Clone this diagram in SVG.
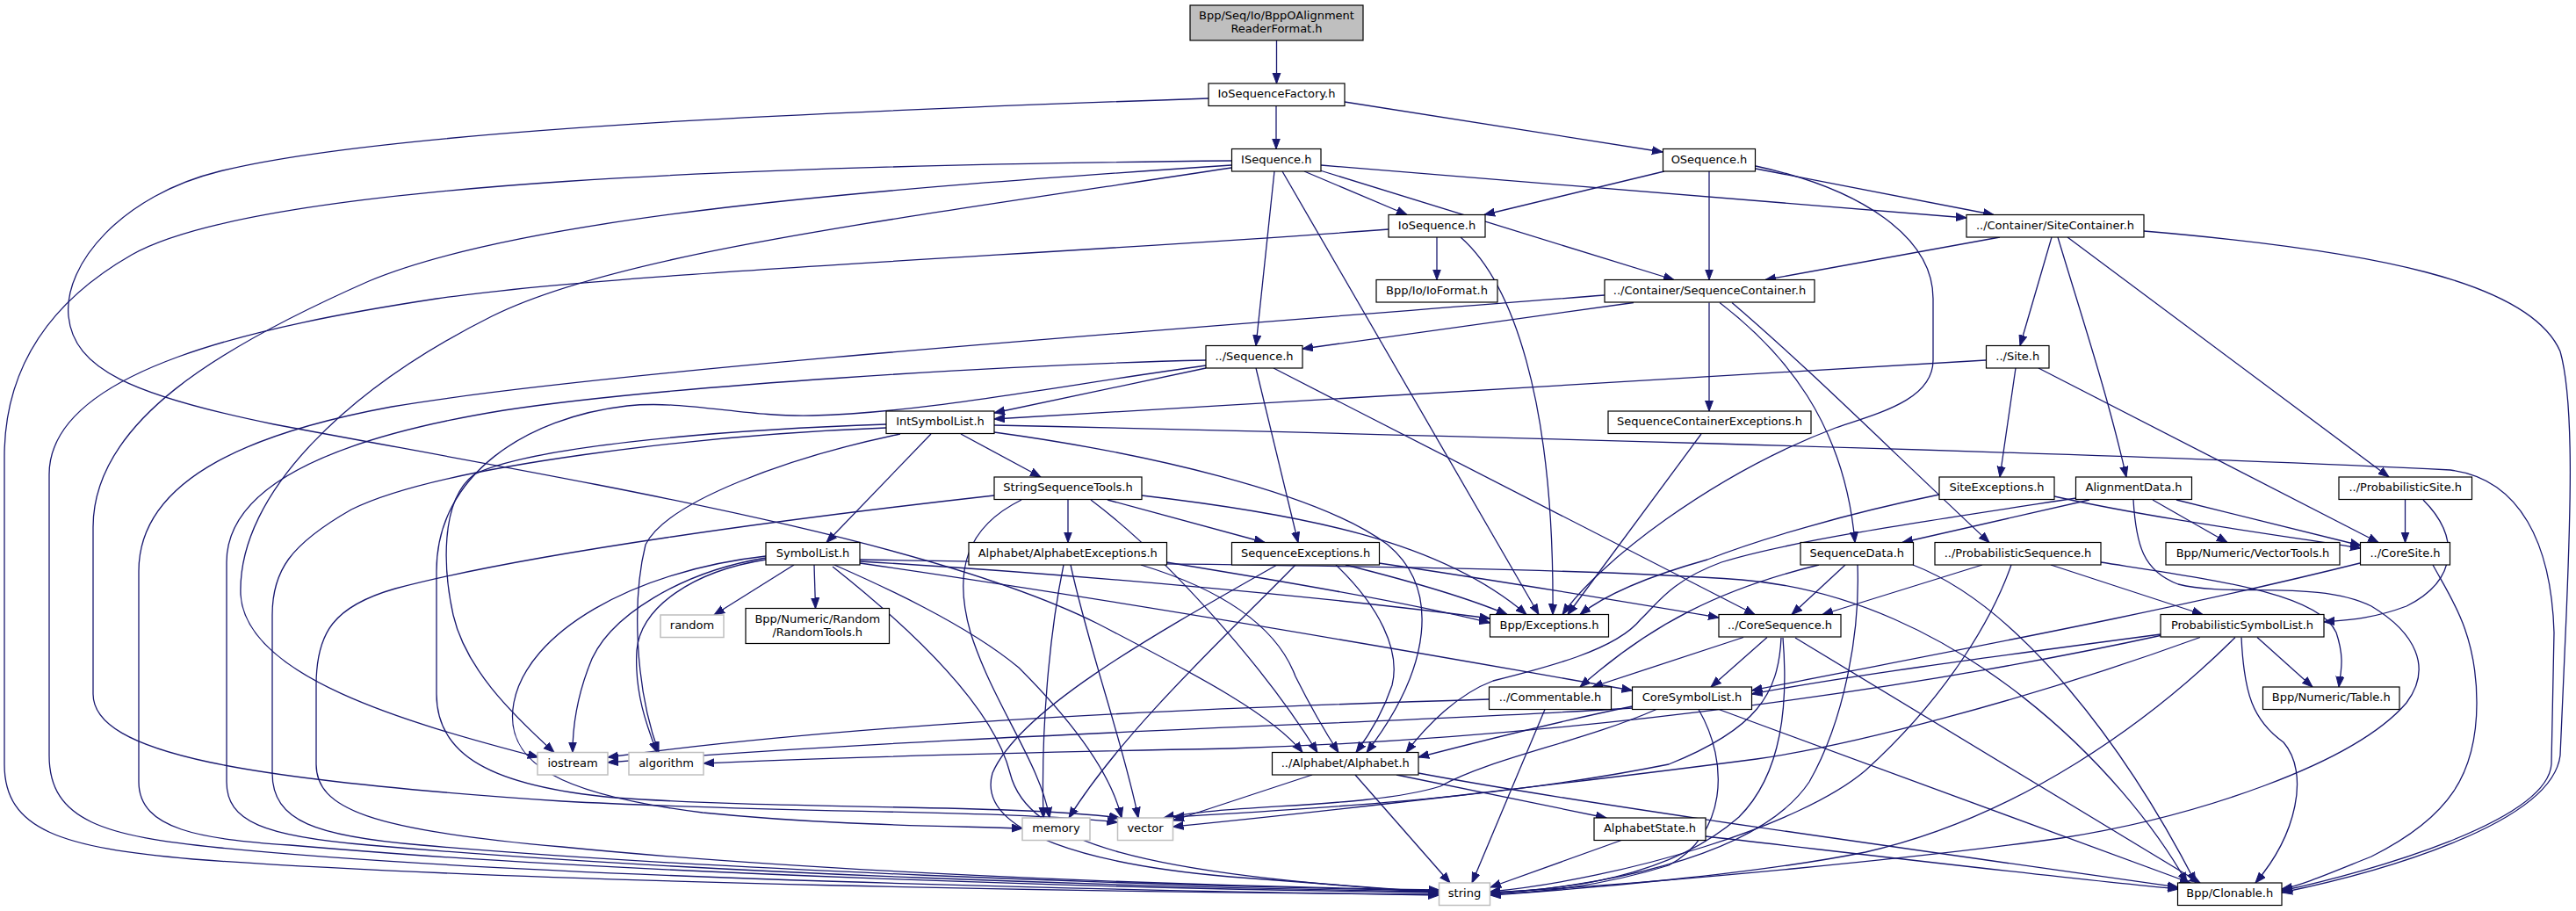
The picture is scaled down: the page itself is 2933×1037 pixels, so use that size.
<svg xmlns="http://www.w3.org/2000/svg" width="2933" height="1037" viewBox="0 0 2933 1037">
<style>
.n rect{fill:#fff;stroke:#000;stroke-width:1.2}
.g rect{fill:#fff;stroke:#bfbfbf;stroke-width:1.5}
.r rect{fill:#bfbfbf;stroke:#000;stroke-width:1.2}
text{font-family:"DejaVu Sans","Liberation Sans",sans-serif;font-size:13px;text-anchor:middle;fill:#000}
#edges path{fill:none;stroke:#191970;stroke-width:1.3;marker-end:url(#arr)}
</style>
<defs>
<marker id="arr" markerWidth="14" markerHeight="11" refX="12" refY="5" orient="auto" markerUnits="userSpaceOnUse">
<path d="M0,0.5 L12,5 L0,9.5 z" fill="#191970" stroke="#191970" stroke-width="1"/>
</marker>
</defs>
<rect width="2933" height="1037" fill="#fff"/>
<g id="edges">
<path d="M1453.5,46 L1453.5,95"/>
<path d="M1453,121 L1453,169.5"/>
<path d="M1531,116 L1893,173"/>
<path d="M1376,112 C1000,125 450,145 250,195 C140,222 72,300 78,360 C84,420 150,450 312,483 C640,545 1050,610 1250,710 C1370,772 1450,815 1483,856.5"/>
<path d="M1485,195 L1602,244.5"/>
<path d="M1503,194 L1906,318.5"/>
<path d="M1504,188 L2239,248"/>
<path d="M1451,195 L1430,393.5"/>
<path d="M1460,195 L1752,699.5"/>
<path d="M1402,183 C900,188 300,205 150,290 C45,350 5,430 5,520 L5,870 C5,945 70,965 220,978 C600,1006 1300,1016 1638.5,1018"/>
<path d="M1402,188 C1000,215 600,245 420,320 C250,395 106,480 106,600 L106,790 C106,858 280,888 640,912 C900,926 1150,922 1272.5,936"/>
<path d="M1402,191 C1000,252 700,290 560,360 C400,440 270,560 274,677 C280,770 460,822 613,862"/>
<path d="M1895,195 L1690,244.5"/>
<path d="M1946,195 L1946,318.5"/>
<path d="M1999,192 L2270,244.5"/>
<path d="M1999,189 C2120,215 2201,270 2201,340 L2201,410 C2201,455 2140,470 2090,487 C1950,540 1820,640 1779,699.5"/>
<path d="M1636,270 L1636,318.5"/>
<path d="M1663,270 C1720,320 1770,450 1768,699.5"/>
<path d="M1581,261 C1200,290 700,310 497,340 C300,370 56,420 56,540 L56,860 C56,935 120,952 250,965 C600,1000 1300,1014 1638.5,1019"/>
<path d="M2277,270 L2010,318.5"/>
<path d="M2336,270 L2300,393.5"/>
<path d="M2343,270 C2370,360 2400,450 2421,543"/>
<path d="M2354,270 L2720,543"/>
<path d="M2441,263 C2700,285 2880,320 2915,400 C2932,460 2926,600 2922,700 L2915,860 C2905,940 2700,995 2598,1016"/>
<path d="M1860,344.5 L1483,397"/>
<path d="M1946,344.5 L1946,468"/>
<path d="M1958,344.5 C2030,400 2100,480 2112,617.5"/>
<path d="M1972,344.5 C2060,420 2140,500 2265,617.5"/>
<path d="M1827,336 C1400,370 700,420 446,463 C300,490 158,540 158,650 L158,890 C158,945 230,955 330,962 C700,995 1300,1012 1638.5,1016"/>
<path d="M1373,419 L1132,470"/>
<path d="M1430,419 L1478,617.5"/>
<path d="M1450,419 L1998,699.5"/>
<path d="M1373,410 C1150,415 750,440 574,467 C420,492 258,540 258,640 L258,890 C258,935 300,952 420,962 C800,995 1300,1010 1638.5,1015"/>
<path d="M1373,416 C1200,440 1050,470 925,473 C850,475 780,455 714,462 C600,475 497,540 497,650 L497,790 C497,860 560,895 700,908 C900,922 1150,915 1275,931"/>
<path d="M2261,410 L1132,477"/>
<path d="M2295,419 L2277,543"/>
<path d="M2321,419 L2708,617.5"/>
<path d="M1060,494 L941,617.5"/>
<path d="M1094,494 L1185,543"/>
<path d="M1132,492 C1300,515 1500,560 1580,620 C1640,670 1630,760 1556,856.5"/>
<path d="M1132,484 C1500,492 2400,515 2790,535 C2870,545 2905,620 2908,720 L2905,870 C2900,935 2700,992 2598,1014"/>
<path d="M1009,483 C800,490 600,510 540,540 C500,570 505,650 516,700 C530,760 580,810 631,856.5"/>
<path d="M1009,487 C800,495 500,530 400,580 C330,620 310,650 310,700 L310,880 C310,935 360,952 480,962 C800,990 1300,1008 1638.5,1014"/>
<path d="M1025,494 C900,520 760,570 735,620 C720,680 722,780 750,856.5"/>
<path d="M1937,494 L1785,699.5"/>
<path d="M1216,569 L1216,617.5"/>
<path d="M1261,569 L1440,617.5"/>
<path d="M1300,564 C1480,585 1640,615 1738,699.5"/>
<path d="M1242,569 C1330,635 1440,760 1500,856.5"/>
<path d="M1163,569 C1100,600 1085,650 1105,720 C1130,800 1185,870 1195,931"/>
<path d="M1132,564 C900,590 600,630 450,670 C380,690 360,720 360,780 L360,870 C360,920 420,945 640,964 C900,990 1300,1008 1638.5,1013"/>
<path d="M904,643 L813,700"/>
<path d="M927,643 L928.5,692.5"/>
<path d="M872,635 C780,650 690,700 670,760 C655,800 652,830 652,856.5"/>
<path d="M872,637 C790,650 730,690 725,740 C722,790 738,830 748,856.5"/>
<path d="M872,633 C720,650 600,720 585,800 C572,870 640,905 800,925 C950,940 1080,940 1164,943"/>
<path d="M950,643 C1000,665 1100,710 1160,760 C1220,820 1265,880 1277,931"/>
<path d="M948,645 C1030,710 1130,800 1150,880 C1170,960 1300,995 1638.5,1016"/>
<path d="M979,637 C1300,643 1750,643 1983,660 C2230,680 2420,880 2490,1005"/>
<path d="M979,639 C1200,652 1500,678 1696.5,704"/>
<path d="M979,641 C1250,680 1600,740 1858.5,786"/>
<path d="M1211,643 C1195,720 1185,830 1188,931"/>
<path d="M1219,643 C1240,740 1280,850 1296,931"/>
<path d="M1299,643 C1420,680 1460,730 1475,770 C1495,810 1510,835 1524,856.5"/>
<path d="M1328,640 C1450,660 1600,685 1696.5,709"/>
<path d="M1532,643 C1600,660 1670,680 1716,699.5"/>
<path d="M1521,643 C1570,690 1595,740 1585,780 C1575,810 1560,835 1544,856.5"/>
<path d="M1570,641 C1700,660 1850,685 1957,703"/>
<path d="M1475,643 C1400,720 1280,830 1217,931"/>
<path d="M1454,643 C1300,730 1160,810 1130,880 C1110,950 1250,985 1400,998 C1500,1006 1580,1012 1638.5,1016"/>
<path d="M2071,643 C1960,670 1880,710 1799,782"/>
<path d="M2101,643 L2040,699.5"/>
<path d="M2115,643 C2118,720 2100,820 2060,890 C2000,980 1800,1012 1696.5,1017"/>
<path d="M2178,643 C2300,690 2420,850 2500,1005"/>
<path d="M2364,567 C2200,592 2040,615 1960,640 C1900,662 1885,690 1868,705 C1840,740 1760,760 1700,775 C1660,790 1625,825 1601,856.5"/>
<path d="M2257,643 L2075,699.5"/>
<path d="M2290,643 C2270,700 2220,790 2124,877 C2050,940 1850,1000 1696.5,1015"/>
<path d="M2335,643 L2508,699.5"/>
<path d="M2392,640 C2520,660 2640,675 2660,720 C2670,750 2665,765 2663,782"/>
<path d="M2379,569 L2166,617.5"/>
<path d="M2451,569 L2536,617.5"/>
<path d="M2478,569 L2688,621"/>
<path d="M2429,569 C2432,620 2440,650 2480,665 C2540,680 2640,660 2700,690 C2750,720 2770,760 2740,800 C2680,870 2500,930 2347,954 C2200,975 1900,1005 1696.5,1016"/>
<path d="M2339,565 C2450,590 2600,610 2688,624"/>
<path d="M2208,563 C2100,585 2000,615 1944,637 C1880,655 1830,675 1799,699.5"/>
<path d="M2738.5,569 L2738.5,617.5"/>
<path d="M2759,569 C2800,610 2800,660 2740,690 C2700,705 2670,706 2646,708"/>
<path d="M2687,641 C2450,700 2200,745 1994.5,786"/>
<path d="M2770,643 C2790,680 2820,720 2820,800 C2820,880 2790,930 2700,975 C2650,995 2620,1008 2598,1012"/>
<path d="M2460,722 C2250,750 2100,770 1994.5,790"/>
<path d="M2570,725.5 L2633,782"/>
<path d="M2552,725.5 C2555,790 2565,820 2600,845 C2630,880 2615,950 2568,1005"/>
<path d="M2545,725.5 C2450,820 2300,930 2124,970 C2000,995 1800,1012 1696.5,1019"/>
<path d="M2505,725.5 C2300,800 2100,850 2000,864 C1800,890 1500,925 1335.5,941"/>
<path d="M2462,723 C2200,780 1800,840 1400,852 C1100,858 900,864 801,869"/>
<path d="M1985,725.5 L1813,782"/>
<path d="M2012,725.5 L1948,782"/>
<path d="M2028,726 C2025,790 2000,830 1900,870 C1700,910 1500,920 1336,930"/>
<path d="M2030,726 C2036,800 2030,880 1980,930 C1900,1000 1780,1013 1696.5,1016"/>
<path d="M2044,726 L2505,1005"/>
<path d="M1695.5,796 C1400,805 1000,820 692,862"/>
<path d="M1759,807.5 L1676,1005"/>
<path d="M1858.5,804 C1780,820 1700,840 1615,862"/>
<path d="M1886,807.5 C1800,845 1700,862 1640,895 C1560,920 1400,915 1325,931"/>
<path d="M1934,807.5 C1970,870 1965,950 1900,985 C1820,1010 1750,1016 1696.5,1018"/>
<path d="M1957,807.5 L2494,1005"/>
<path d="M1858.5,806 C1600,823 1100,835 692,868"/>
<path d="M1590,882 L1829,931"/>
<path d="M1543,882 L1651,1005"/>
<path d="M1494,882 L1336,934"/>
<path d="M1615,880 C1800,915 2200,970 2480,1010"/>
<path d="M1846,956.5 L1697,1010"/>
<path d="M1942,952 C2100,970 2350,1000 2480,1012"/>
</g>
<g id="n_root" class="r"><rect x="1355" y="6" width="197" height="40"/><text x="1453.5" y="21.5">Bpp/Seq/Io/BppOAlignment</text><text x="1453.5" y="36.5">ReaderFormat.h</text></g>
<g id="n_IoSequenceFactory" class="n"><rect x="1376" y="95" width="155" height="25.5"/><text x="1453.5" y="111">IoSequenceFactory.h</text></g>
<g id="n_ISequence" class="n"><rect x="1402.5" y="169.5" width="101.5" height="25.5"/><text x="1453.25" y="185.5">ISequence.h</text></g>
<g id="n_OSequence" class="n"><rect x="1893.5" y="169.5" width="105" height="25.5"/><text x="1946" y="185.5">OSequence.h</text></g>
<g id="n_IoSequence" class="n"><rect x="1581" y="244.5" width="110" height="25.5"/><text x="1636" y="260.5">IoSequence.h</text></g>
<g id="n_IoFormat" class="n"><rect x="1567" y="318.5" width="138" height="25.5"/><text x="1636" y="334.5">Bpp/Io/IoFormat.h</text></g>
<g id="n_SequenceContainer" class="n"><rect x="1827" y="318.5" width="239" height="25.5"/><text x="1946.5" y="334.5">../Container/SequenceContainer.h</text></g>
<g id="n_SiteContainer" class="n"><rect x="2239" y="244.5" width="202" height="25.5"/><text x="2340" y="260.5">../Container/SiteContainer.h</text></g>
<g id="n_Sequence" class="n"><rect x="1373" y="393.5" width="110" height="25.5"/><text x="1428" y="409.5">../Sequence.h</text></g>
<g id="n_Site" class="n"><rect x="2261.5" y="393.5" width="71.5" height="25.5"/><text x="2297.25" y="409.5">../Site.h</text></g>
<g id="n_IntSymbolList" class="n"><rect x="1009" y="468" width="123" height="25.5"/><text x="1070.5" y="484">IntSymbolList.h</text></g>
<g id="n_SequenceContainerExceptions" class="n"><rect x="1831" y="468" width="231" height="25.5"/><text x="1946.5" y="484">SequenceContainerExceptions.h</text></g>
<g id="n_StringSequenceTools" class="n"><rect x="1132" y="543" width="168" height="25.5"/><text x="1216" y="559">StringSequenceTools.h</text></g>
<g id="n_SiteExceptions" class="n"><rect x="2208" y="543" width="131" height="25.5"/><text x="2273.5" y="559">SiteExceptions.h</text></g>
<g id="n_AlignmentData" class="n"><rect x="2363.5" y="543" width="132" height="25.5"/><text x="2429.5" y="559">AlignmentData.h</text></g>
<g id="n_ProbabilisticSite" class="n"><rect x="2663" y="543" width="151.5" height="25.5"/><text x="2738.75" y="559">../ProbabilisticSite.h</text></g>
<g id="n_SymbolList" class="n"><rect x="872" y="617.5" width="107" height="25.5"/><text x="925.5" y="633.5">SymbolList.h</text></g>
<g id="n_AlphabetExceptions" class="n"><rect x="1103" y="617.5" width="225.5" height="25.5"/><text x="1215.75" y="633.5">Alphabet/AlphabetExceptions.h</text></g>
<g id="n_SequenceExceptions" class="n"><rect x="1402.5" y="617.5" width="168" height="25.5"/><text x="1486.5" y="633.5">SequenceExceptions.h</text></g>
<g id="n_SequenceData" class="n"><rect x="2050" y="617.5" width="128.5" height="25.5"/><text x="2114.25" y="633.5">SequenceData.h</text></g>
<g id="n_ProbabilisticSequence" class="n"><rect x="2203" y="617.5" width="189" height="25.5"/><text x="2297.5" y="633.5">../ProbabilisticSequence.h</text></g>
<g id="n_VectorTools" class="n"><rect x="2466" y="617.5" width="198" height="25.5"/><text x="2565" y="633.5">Bpp/Numeric/VectorTools.h</text></g>
<g id="n_CoreSite" class="n"><rect x="2687.5" y="617.5" width="102" height="25.5"/><text x="2738.5" y="633.5">../CoreSite.h</text></g>
<g id="n_random" class="g"><rect x="752" y="700" width="72" height="25.5"/><text x="788" y="716">random</text></g>
<g id="n_RandomTools" class="n"><rect x="849" y="692.5" width="163.5" height="40"/><text x="930.75" y="708.5">Bpp/Numeric/Random</text><text x="930.75" y="723.5">/RandomTools.h</text></g>
<g id="n_Exceptions" class="n"><rect x="1696.5" y="699.5" width="135" height="25.5"/><text x="1764" y="715.5">Bpp/Exceptions.h</text></g>
<g id="n_CoreSequence" class="n"><rect x="1957" y="699.5" width="139" height="25.5"/><text x="2026.5" y="715.5">../CoreSequence.h</text></g>
<g id="n_ProbabilisticSymbolList" class="n"><rect x="2460" y="699.5" width="186" height="25.5"/><text x="2553" y="715.5">ProbabilisticSymbolList.h</text></g>
<g id="n_Commentable" class="n"><rect x="1695.5" y="782" width="139" height="25.5"/><text x="1765" y="798">../Commentable.h</text></g>
<g id="n_CoreSymbolList" class="n"><rect x="1858.5" y="782" width="136" height="25.5"/><text x="1926.5" y="798">CoreSymbolList.h</text></g>
<g id="n_Table" class="n"><rect x="2576.5" y="782" width="155.5" height="25.5"/><text x="2654.25" y="798">Bpp/Numeric/Table.h</text></g>
<g id="n_iostream" class="g"><rect x="612" y="856.5" width="80" height="25.5"/><text x="652" y="872.5">iostream</text></g>
<g id="n_algorithm" class="g"><rect x="716" y="856.5" width="85" height="25.5"/><text x="758.5" y="872.5">algorithm</text></g>
<g id="n_Alphabet" class="n"><rect x="1448.5" y="856.5" width="166.5" height="25.5"/><text x="1531.75" y="872.5">../Alphabet/Alphabet.h</text></g>
<g id="n_memory" class="g"><rect x="1164" y="931" width="77" height="25.5"/><text x="1202.5" y="947">memory</text></g>
<g id="n_vector" class="g"><rect x="1272.5" y="931" width="63" height="25.5"/><text x="1304" y="947">vector</text></g>
<g id="n_AlphabetState" class="n"><rect x="1815" y="931" width="127" height="25.5"/><text x="1878.5" y="947">AlphabetState.h</text></g>
<g id="n_string" class="g"><rect x="1638.5" y="1005" width="58" height="25.5"/><text x="1667.5" y="1021">string</text></g>
<g id="n_Clonable" class="n"><rect x="2479.5" y="1005" width="118.5" height="25.5"/><text x="2538.75" y="1021">Bpp/Clonable.h</text></g>
</svg>
